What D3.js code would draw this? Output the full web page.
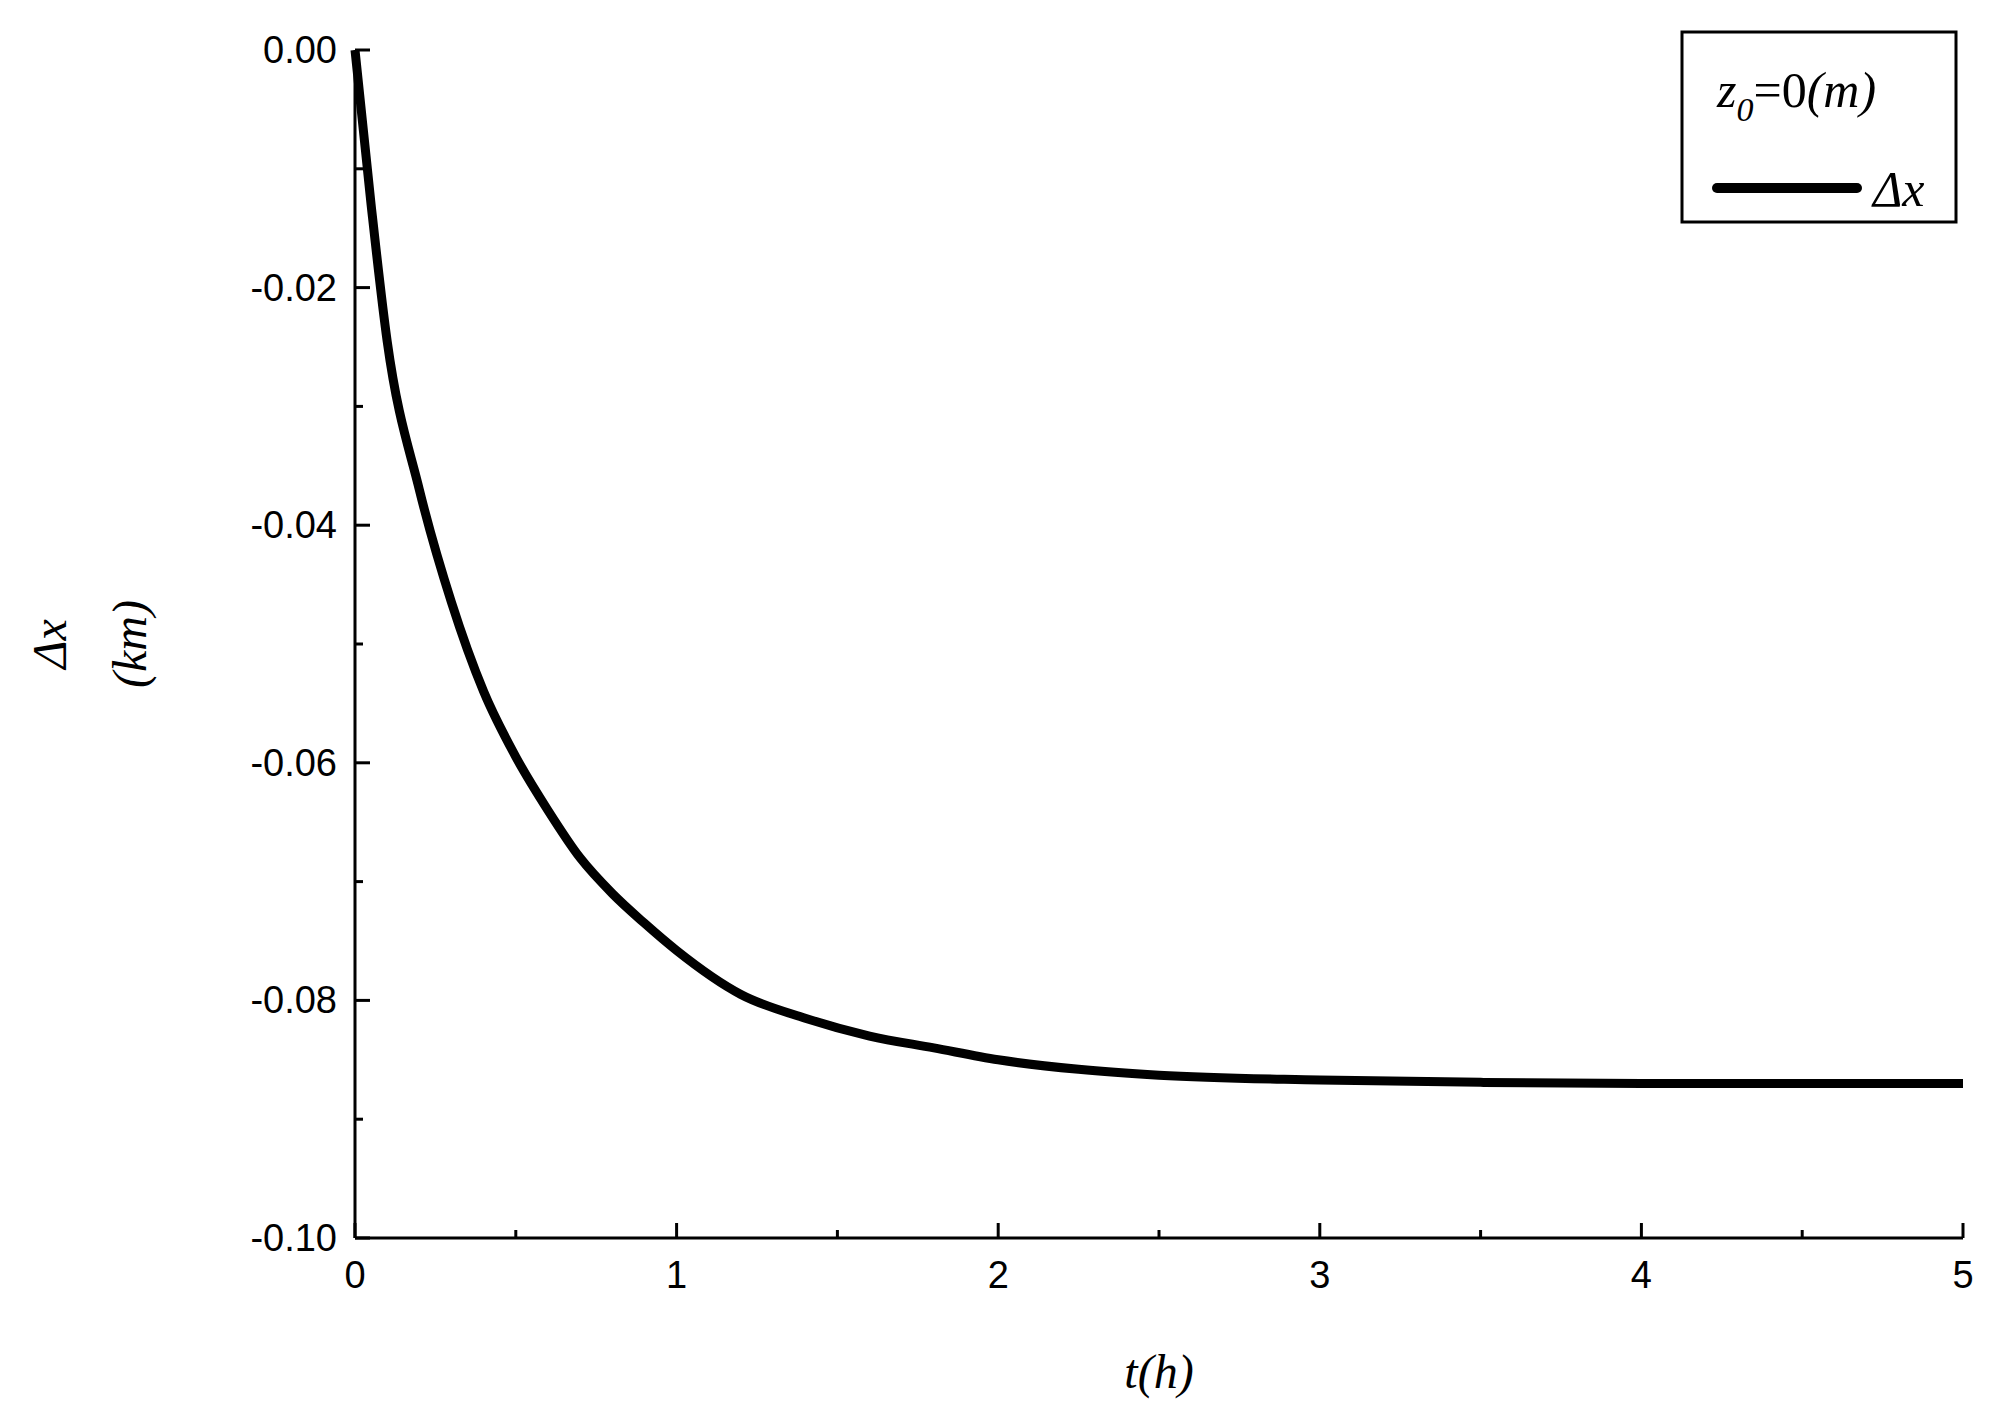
<!DOCTYPE html>
<html><head><meta charset="utf-8">
<script src="https://cdn.jsdelivr.net/npm/d3@7"></script>
<style>body{margin:0;background:#fff}</style></head>
<body><svg id="chart" width="1995" height="1419"></svg>
<script>
const times = [0, 0.05, 0.1, 0.2, 0.3, 0.4, 0.5, 0.6, 0.7, 0.8, 0.9, 1.0, 1.2, 1.4, 1.6, 1.8, 2.0, 2.25, 2.5, 3, 3.5, 4, 4.5, 5];
const dx = [0, -0.013, -0.0245, -0.037, -0.0465, -0.054, -0.0595, -0.064, -0.068, -0.071, -0.0735, -0.0758, -0.0795, -0.0815, -0.083, -0.084, -0.085, -0.0858, -0.0863, -0.0867, -0.0869, -0.087, -0.087, -0.087];
const xTicks = [0, 1, 2, 3, 4, 5];
const yTicks = [0, -0.02, -0.04, -0.06, -0.08, -0.10];

const svg = d3.select("#chart");
const plotLeft = 355, plotRight = 1963, plotTop = 50, plotBottom = 1238;
const x = d3.scaleLinear().domain([0, 5]).range([plotLeft, plotRight]);
const y = d3.scaleLinear().domain([-0.1, 0]).range([plotBottom, plotTop]);

const ax = svg.append("g").attr("stroke", "#000").attr("stroke-width", 3);
ax.append("line").attr("x1", plotLeft).attr("x2", plotLeft).attr("y1", plotTop).attr("y2", plotBottom);
ax.append("line").attr("x1", plotLeft).attr("x2", plotRight).attr("y1", plotBottom).attr("y2", plotBottom);

d3.range(0, 5.01, 0.5).forEach(t => {
  const major = Math.abs(t - Math.round(t)) < 1e-6;
  ax.append("line").attr("x1", x(t)).attr("x2", x(t)).attr("y1", plotBottom).attr("y2", plotBottom - (major ? 15 : 8));
});
d3.range(0, 10.01, 1).forEach(i => {
  const v = -i * 0.01;
  ax.append("line").attr("x1", plotLeft).attr("x2", plotLeft + (i % 2 === 0 ? 15 : 8)).attr("y1", y(v)).attr("y2", y(v));
});

const font = "Arial, 'Liberation Sans', sans-serif";
svg.selectAll(".xt").data(xTicks).enter().append("text")
  .attr("x", d => x(d)).attr("y", plotBottom + 50).attr("text-anchor", "middle")
  .attr("font-family", font).attr("font-size", 38).text(d => d);
svg.selectAll(".yt").data(yTicks).enter().append("text")
  .attr("x", plotLeft - 18).attr("y", d => y(d) + 13).attr("text-anchor", "end")
  .attr("font-family", font).attr("font-size", 38).text(d => d.toFixed(2));

const serif = "'Times New Roman', 'Liberation Serif', serif";
svg.append("text").attr("x", x(2.5)).attr("y", 1388).attr("text-anchor", "middle")
  .attr("font-family", serif).attr("font-style", "italic").attr("font-size", 48).text("t(h)");
const yl = svg.append("g").attr("transform", "translate(66," + ((plotTop + plotBottom) / 2) + ") rotate(-90)");
yl.append("text").attr("x", 0).attr("y", 0).attr("text-anchor", "middle")
  .attr("font-family", serif).attr("font-style", "italic").attr("font-size", 48).text("Δx");
yl.append("text").attr("x", 0).attr("y", 80).attr("text-anchor", "middle")
  .attr("font-family", serif).attr("font-style", "italic").attr("font-size", 48).text("(km)");

svg.append("path").datum(times.map((t, i) => [t, dx[i]]))
  .attr("fill", "none").attr("stroke", "#000").attr("stroke-width", 9)
  .attr("d", d3.line().x(d => x(d[0])).y(d => y(d[1])).curve(d3.curveMonotoneX));

// legend
const lg = svg.append("g");
lg.append("rect").attr("x", 1682).attr("y", 32).attr("width", 274).attr("height", 190)
  .attr("fill", "#fff").attr("stroke", "#000").attr("stroke-width", 3);
const t1 = lg.append("text").attr("x", 1717).attr("y", 107).attr("font-family", serif).attr("font-size", 50);
t1.append("tspan").attr("font-style", "italic").text("z");
t1.append("tspan").attr("font-style", "italic").attr("font-size", 34).attr("dy", 14).text("0");
t1.append("tspan").attr("dy", -14).text("=0");
t1.append("tspan").attr("font-style", "italic").text("(m)");
lg.append("line").attr("x1", 1717).attr("x2", 1857).attr("y1", 188).attr("y2", 188)
  .attr("stroke", "#000").attr("stroke-width", 10).attr("stroke-linecap", "round");
lg.append("text").attr("x", 1873).attr("y", 206).attr("font-family", serif).attr("font-style", "italic")
  .attr("font-size", 50).text("Δx");
</script></body></html>
